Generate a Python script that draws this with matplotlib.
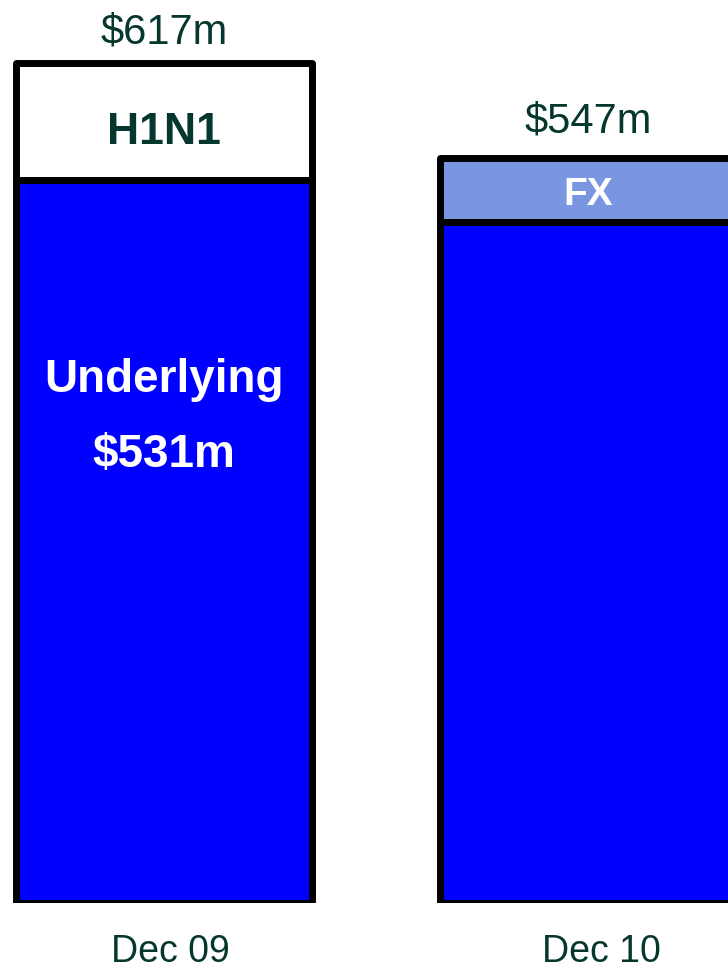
import matplotlib
matplotlib.use("Agg")
import matplotlib.pyplot as plt
import matplotlib.patheffects as pe

plt.rcParams['font.family'] = ['Liberation Sans', 'DejaVu Sans']

# Datos de las barras (millones de USD)
periodos = ['Dec 09', 'Dec 10']
base = [531, 500]
extra = [86, 47]
extra_nombre = ['H1N1', 'FX']
extra_color = ['white', '#7B96E0']
totales = [617, 547]

TEXTO = '#06372E'
AZUL = '#0000FF'

fig = plt.figure(figsize=(7.28, 9.70), dpi=100)
ax = fig.add_axes([0, 66 / 970, 1, 904 / 970])
ax.set_xlim(-0.387, 1.330)
ax.set_ylim(0, 664)
ax.axis('off')

x_pos = range(len(periodos))
ancho = 0.70
sombra = [pe.SimplePatchShadow(offset=(1.5, -1.5), shadow_rgbFace='gray', alpha=0.6), pe.Normal()]

# Barras apiladas: base + componente extra
for i in x_pos:
    ax.bar(i, base[i], width=ancho, color=AZUL, edgecolor='black',
           linewidth=5, joinstyle='round', path_effects=sombra, zorder=2)
    ax.bar(i, extra[i], bottom=base[i], width=ancho, color=extra_color[i],
           edgecolor='black', linewidth=5, joinstyle='round',
           path_effects=sombra, zorder=2)


def etiqueta_centrada(x, y, texto, size, color, dy=0, weight='bold'):
    # centra las mayusculas verticalmente en y
    ax.annotate(texto, (x, y), xytext=(0, -0.358 * size + dy), textcoords='offset points',
                ha='center', va='baseline', fontsize=size, color=color,
                fontweight=weight, zorder=3)


# Nombres de los segmentos
etiqueta_centrada(0, base[0] + extra[0] / 2, extra_nombre[0], 32, TEXTO, dy=-4)
etiqueta_centrada(1, base[1] + extra[1] / 2, extra_nombre[1], 28, 'white')

# Valor subyacente dentro de la barra azul
ax.text(0, base[0] * 0.708, 'Underlying', ha='center', va='baseline',
        fontsize=33, fontweight='bold', color='white', zorder=3)
ax.text(0, base[0] * 0.604, f'${base[0]}m', ha='center', va='baseline',
        fontsize=33, fontweight='bold', color='white', zorder=3)

# Totales encima de cada barra
desfase_total = [15, 19]
for i in x_pos:
    ax.annotate(f'${totales[i]}m', (i, totales[i]), xytext=(0, desfase_total[i]),
                textcoords='offset points', ha='center', va='baseline',
                fontsize=30, color=TEXTO)

# Etiquetas del eje x
desfase_x = [4.3, 9.4]
for i in x_pos:
    ax.annotate(periodos[i], (i, 0), xytext=(desfase_x[i], -42),
                textcoords='offset points', ha='center', va='baseline',
                fontsize=27, color=TEXTO, annotation_clip=False)

fig.savefig('out.png', dpi=100)
